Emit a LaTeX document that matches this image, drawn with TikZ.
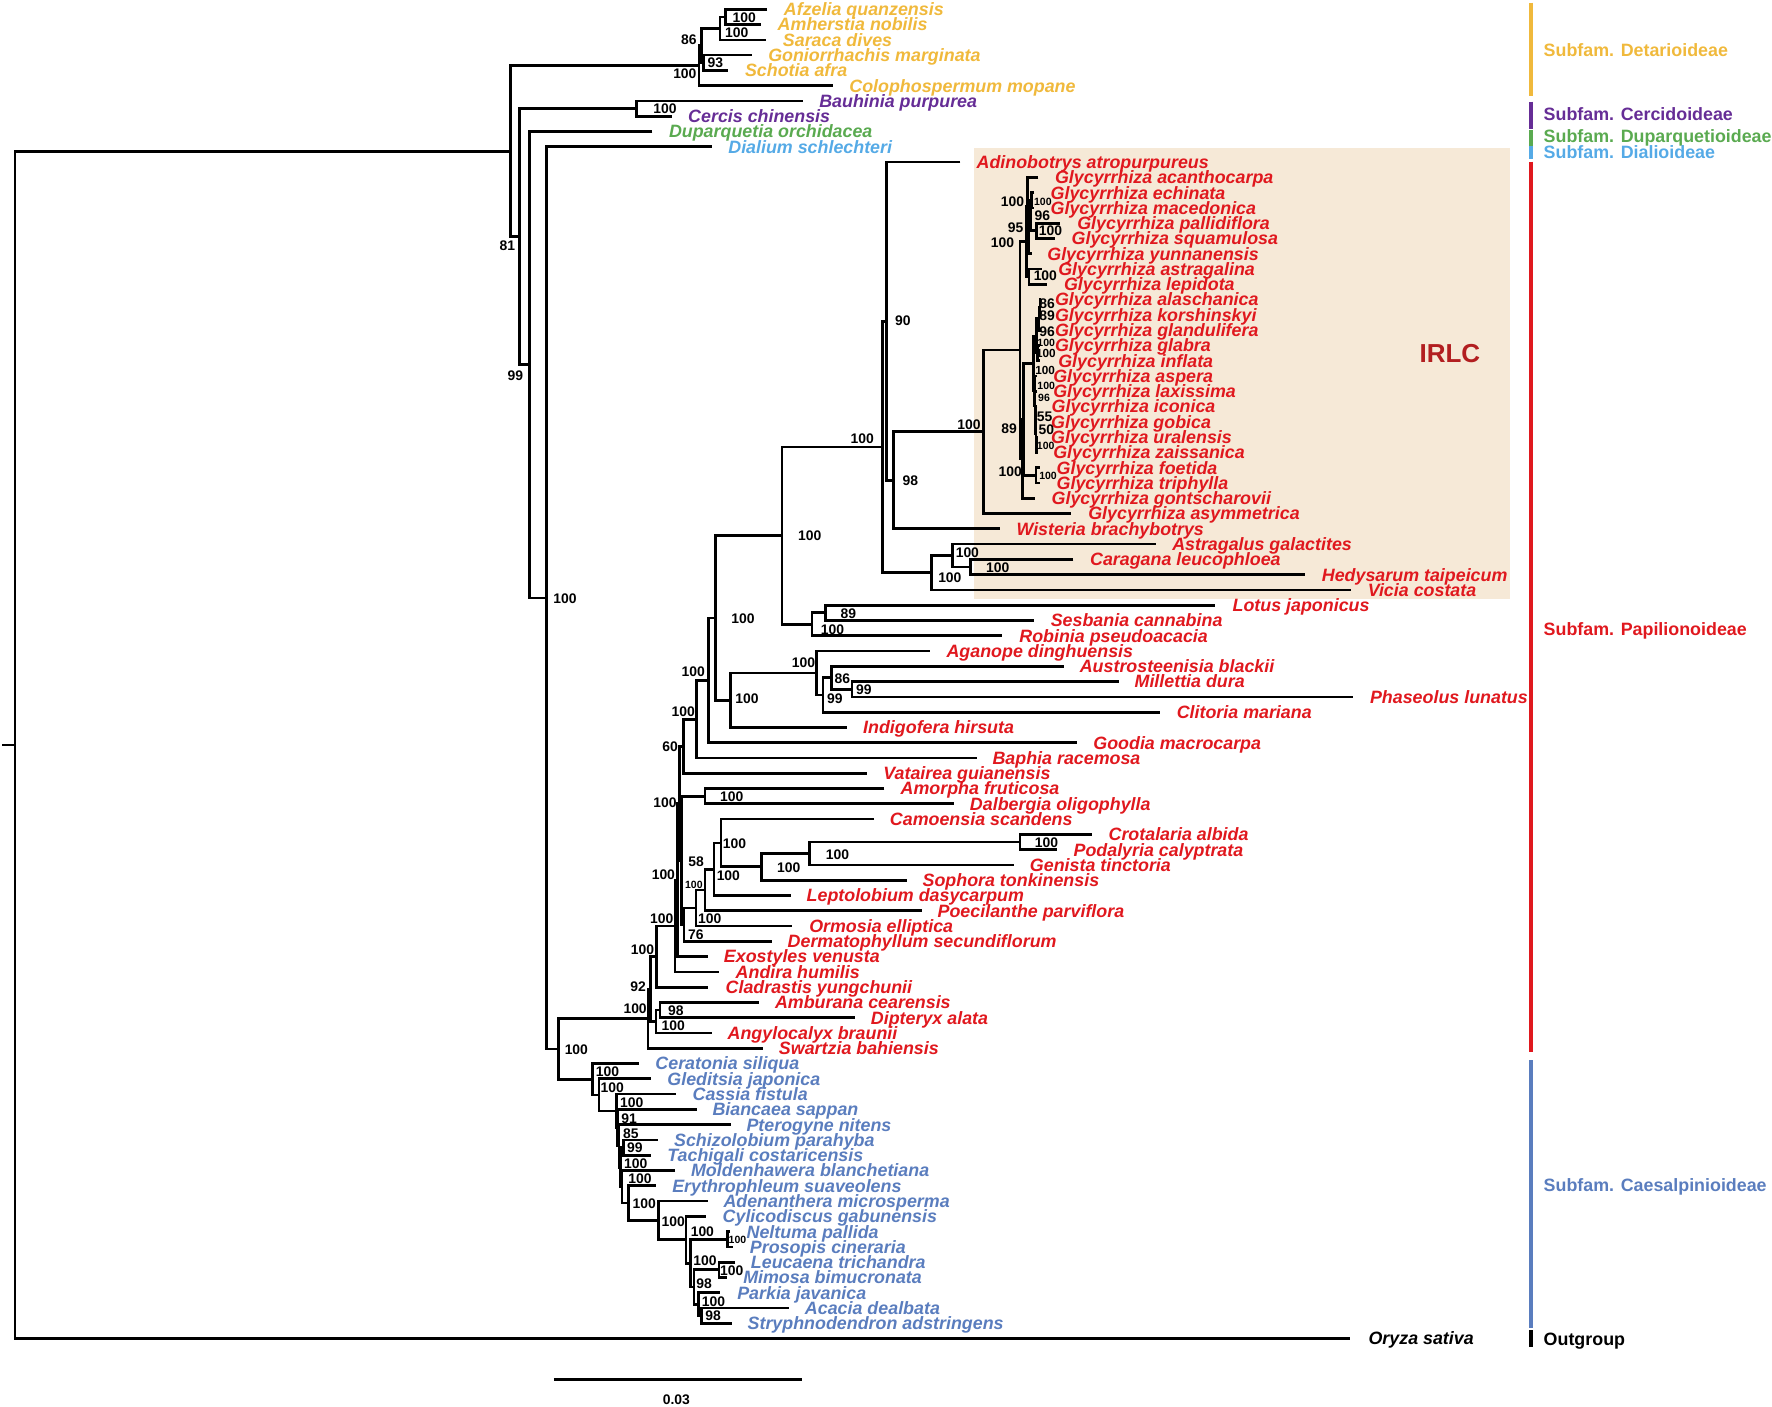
\documentclass[tikz,border=0pt]{standalone}
\usepackage{fontspec}
\setmainfont{Liberation Sans}
\usetikzlibrary{calc}
\definecolor{cDet}{RGB}{240,185,60}
\definecolor{cCer}{RGB}{102,45,150}
\definecolor{cDup}{RGB}{90,170,80}
\definecolor{cDia}{RGB}{85,170,230}
\definecolor{cPap}{RGB}{224,24,30}
\definecolor{cCae}{RGB}{90,125,190}
\definecolor{irlcbg}{RGB}{246,233,215}
\definecolor{irlctx}{RGB}{178,30,32}
\newcount\bscnt
\newcommand\tlf[6]{%
  \coordinate (#1) at (#3,{8.23+(#2-1)*13.52});
  \node[taxon,text=#5] (#1-t) at (#4,{8.23+(#2-1)*13.52}) {#6};}
\newcommand\tcl[4]{%
  \path let \p1=(#3), \p2=(#4) in coordinate (#1) at (#2pt,{0.5*(\y1+\y2)});
  \draw[br] (#3) -| (#1) |- (#4);}
\newcommand\bs[3]{\global\advance\bscnt by 1 \node[bsl] (bs\the\bscnt) at (#1,#2) {#3};}
\newcommand\bsm[3]{\global\advance\bscnt by 1 \node[bslm] (bs\the\bscnt) at (#1,#2) {#3};}
\newcommand\bss[3]{\global\advance\bscnt by 1 \node[bsls] (bs\the\bscnt) at (#1,#2) {#3};}
\tikzset{
  br/.style={line width=2.4pt, line join=miter},
  taxon/.style={anchor=west, inner sep=0pt, outer sep=0pt,
    font=\fontsize{15.8}{15.8}\selectfont\bfseries\itshape, text height=11.3pt, text depth=0pt},
  bsl/.style={inner sep=0pt, outer sep=0pt,
    font=\fontsize{12.3}{12.3}\selectfont\bfseries, text height=8.8pt, text depth=0pt},
  bslm/.style={inner sep=0pt, outer sep=0pt,
    font=\fontsize{10.4}{10.4}\selectfont\bfseries, text height=7.4pt, text depth=0pt},
  bsls/.style={inner sep=0pt, outer sep=0pt,
    font=\fontsize{9.3}{9.3}\selectfont\bfseries, text height=6.7pt, text depth=0pt},
  subf/.style={anchor=west, inner sep=0pt, outer sep=0pt,
    font=\fontsize{15.8}{15.8}\selectfont\bfseries, text height=11.3pt, text depth=0pt},
  bar/.style={line width=4.2pt},
}
\begin{document}
\begin{tikzpicture}[x=1pt,y=-1pt]
\useasboundingbox (0,0) rectangle (1568,1245);
% IRLC background
\node[fill=irlcbg, draw=none, inner sep=0pt, minimum width=474pt, minimum height=399pt, anchor=north west] (irlcbox) at (862,131) {};
\node[inner sep=0pt, text=irlctx, font=\fontsize{23}{23}\selectfont\bfseries] (irlc) at (1283,313) {IRLC};

% ---------- leaves ----------
\tlf{afz}{1}{678.9}{693.7}{cDet}{Afzelia quanzensis}
\tlf{amh}{2}{673.4}{688.2}{cDet}{Amherstia nobilis}
\tlf{sar}{3}{678}{692.8}{cDet}{Saraca dives}
\tlf{gon}{4}{665}{679.8}{cDet}{Goniorrhachis marginata}
\tlf{sch}{5}{644.5}{659.3}{cDet}{Schotia afra}
\tlf{col}{6}{736.8}{751.6}{cDet}{Colophospermum mopane}
\tlf{bau}{7}{710.3}{725}{cCer}{Bauhinia purpurea}
\tlf{cer}{8}{594.3}{609}{cCer}{Cercis chinensis}
\tlf{dup}{9}{577.3}{592}{cDup}{Duparquetia orchidacea}
\tlf{dia}{10}{629.7}{644.5}{cDia}{Dialium schlechteri}
\tlf{adi}{11}{849.9}{864.2}{cPap}{Adinobotrys atropurpureus}
\tlf{g1}{12}{918.8}{933.6}{cPap}{Glycyrrhiza acanthocarpa}
\tlf{g2}{13}{915}{929.7}{cPap}{Glycyrrhiza echinata}
\tlf{g3}{14}{915}{929.7}{cPap}{Glycyrrhiza macedonica}
\tlf{g4}{15}{938}{953.3}{cPap}{Glycyrrhiza pallidiflora}
\tlf{g5}{16}{933.6}{948.3}{cPap}{Glycyrrhiza squamulosa}
\tlf{g6}{17}{913}{926.8}{cPap}{Glycyrrhiza yunnanensis}
\tlf{g7}{18}{922}{936.5}{cPap}{Glycyrrhiza astragalina}
\tlf{g8}{19}{926.8}{941.5}{cPap}{Glycyrrhiza lepidota}
\tlf{g9}{20}{921}{933.6}{cPap}{Glycyrrhiza alaschanica}
\tlf{g10}{21}{921}{933.6}{cPap}{Glycyrrhiza korshinskyi}
\tlf{g11}{22}{921}{933.6}{cPap}{Glycyrrhiza glandulifera}
\tlf{g12}{23}{920}{933.6}{cPap}{Glycyrrhiza glabra}
\tlf{g13}{24}{920}{936.5}{cPap}{Glycyrrhiza inflata}
\tlf{g14}{25}{918}{932}{cPap}{Glycyrrhiza aspera}
\tlf{g15}{26}{918}{932}{cPap}{Glycyrrhiza laxissima}
\tlf{g16}{27}{918}{930.6}{cPap}{Glycyrrhiza iconica}
\tlf{g17}{28}{918}{930.2}{cPap}{Glycyrrhiza gobica}
\tlf{g18}{29}{918}{930.2}{cPap}{Glycyrrhiza uralensis}
\tlf{g19}{30}{918}{932}{cPap}{Glycyrrhiza zaissanica}
\tlf{g20}{31}{920.2}{935}{cPap}{Glycyrrhiza foetida}
\tlf{g21}{32}{920.2}{935}{cPap}{Glycyrrhiza triphylla}
\tlf{g22}{33}{915.8}{930.6}{cPap}{Glycyrrhiza gontscharovii}
\tlf{g23}{34}{948}{963}{cPap}{Glycyrrhiza asymmetrica}
\tlf{wis}{35}{884.6}{899.5}{cPap}{Wisteria brachybotrys}
\tlf{ast}{36}{1022.5}{1037.3}{cPap}{Astragalus galactites}
\tlf{car}{37}{949.8}{964.6}{cPap}{Caragana leucophloea}
\tlf{hed}{38}{1154.9}{1169.7}{cPap}{Hedysarum taipeicum}
\tlf{vic}{39}{1195.5}{1210.3}{cPap}{Vicia costata}
\tlf{lot}{40}{1074.8}{1090.7}{cPap}{Lotus japonicus}
\tlf{ses}{41}{914.8}{929.8}{cPap}{Sesbania cannabina}
\tlf{rob}{42}{886.9}{902}{cPap}{Robinia pseudoacacia}
\tlf{aga}{43}{822.6}{837.6}{cPap}{Aganope dinghuensis}
\tlf{aus}{44}{941.4}{955.5}{cPap}{Austrosteenisia blackii}
\tlf{mil}{45}{989.9}{1004}{cPap}{Millettia dura}
\tlf{pha}{46}{1197.5}{1212.3}{cPap}{Phaseolus lunatus}
\tlf{cli}{47}{1026.3}{1041.3}{cPap}{Clitoria mariana}
\tlf{ind}{48}{749.7}{763.8}{cPap}{Indigofera hirsuta}
\tlf{goo}{49}{953.4}{967.5}{cPap}{Goodia macrocarpa}
\tlf{bap}{50}{864.2}{878.3}{cPap}{Baphia racemosa}
\tlf{vat}{51}{766.9}{781.7}{cPap}{Vatairea guianensis}
\tlf{amo}{52}{782.5}{797}{cPap}{Amorpha fruticosa}
\tlf{dal}{53}{844.4}{858.3}{cPap}{Dalbergia oligophylla}
\tlf{cam}{54}{773.4}{787.5}{cPap}{Camoensia scandens}
\tlf{cro}{55}{966}{981}{cPap}{Crotalaria albida}
\tlf{pod}{56}{935}{950}{cPap}{Podalyria calyptrata}
\tlf{gen}{57}{897.2}{911.4}{cPap}{Genista tinctoria}
\tlf{sop}{58}{802.3}{816.4}{cPap}{Sophora tonkinensis}
\tlf{lep}{59}{699.6}{713.8}{cPap}{Leptolobium dasycarpum}
\tlf{poe}{60}{816.1}{829.7}{cPap}{Poecilanthe parviflora}
\tlf{orm}{61}{701}{716.1}{cPap}{Ormosia elliptica}
\tlf{der}{62}{682.8}{697}{cPap}{Dermatophyllum secundiflorum}
\tlf{exo}{63}{626.2}{640.6}{cPap}{Exostyles venusta}
\tlf{andi}{64}{636.5}{651}{cPap}{Andira humilis}
\tlf{cla}{65}{626.8}{642.1}{cPap}{Cladrastis yungchunii}
\tlf{amb}{66}{671.6}{685.8}{cPap}{Amburana cearensis}
\tlf{dip}{67}{756.5}{770.7}{cPap}{Dipteryx alata}
\tlf{ang}{68}{629.7}{643.9}{cPap}{Angylocalyx braunii}
\tlf{swa}{69}{675.4}{689.3}{cPap}{Swartzia bahiensis}
\tlf{cera}{70}{565.4}{580}{cCae}{Ceratonia siliqua}
\tlf{gle}{71}{576}{590.6}{cCae}{Gleditsia japonica}
\tlf{cas}{72}{598.1}{612.9}{cCae}{Cassia fistula}
\tlf{bia}{73}{616.4}{630.5}{cCae}{Biancaea sappan}
\tlf{pte}{74}{646.5}{660.6}{cCae}{Pterogyne nitens}
\tlf{schz}{75}{581.9}{596.5}{cCae}{Schizolobium parahyba}
\tlf{tac}{76}{576}{590.6}{cCae}{Tachigali costaricensis}
\tlf{mol}{77}{597.3}{611.5}{cCae}{Moldenhawera blanchetiana}
\tlf{ery}{78}{580.4}{594.9}{cCae}{Erythrophleum suaveolens}
\tlf{ade}{79}{626.2}{640.2}{cCae}{Adenanthera microsperma}
\tlf{cyl}{80}{624.7}{639.5}{cCae}{Cylicodiscus gabunensis}
\tlf{nel}{81}{646}{660.7}{cCae}{Neltuma pallida}
\tlf{pro}{82}{649}{663.6}{cCae}{Prosopis cineraria}
\tlf{leu}{83}{650.4}{664.5}{cCae}{Leucaena trichandra}
\tlf{mim}{84}{643}{657.7}{cCae}{Mimosa bimucronata}
\tlf{par}{85}{637.1}{652.4}{cCae}{Parkia javanica}
\tlf{aca}{86}{697.8}{712.3}{cCae}{Acacia dealbata}
\tlf{str}{87}{647.4}{661.6}{cCae}{Stryphnodendron adstringens}
\tlf{ory}{88}{1195}{1211}{black}{Oryza sativa}

% ---------- clades ----------
% Detarioideae
\tcl{D2a}{642}{afz}{amh}
\tcl{D2}{637}{D2a}{sar}
\tcl{D3}{622.5}{gon}{sch}
\tcl{D1}{620.5}{D2}{D3}
\tcl{D0}{618.5}{D1}{col}
% Cercidoideae
\tcl{C1}{563.4}{bau}{cer}
% Glycyrrhiza
\tcl{EM}{913}{g2}{g3}
\tcl{PS}{917.3}{g4}{g5}
\tcl{EMPS}{911.8}{EM}{PS}
\tcl{T1b}{910.5}{EMPS}{g6}
\tcl{T1}{909.5}{g1}{T1b}
\tcl{AL}{910.5}{g7}{g8}
\tcl{Top}{908.3}{T1}{AL}
\tcl{AK}{920.3}{g9}{g10}
\tcl{AKG}{919.5}{AK}{g11}
\tcl{GI}{918.3}{g12}{g13}
\tcl{U1}{917.2}{AKG}{GI}
\tcl{ZU}{917.3}{g18}{g19}
\tcl{GZ}{916.8}{g17}{ZU}
\tcl{IZ}{916.3}{g16}{GZ}
\tcl{LZ}{915.8}{g15}{IZ}
\tcl{U2}{915.3}{g14}{LZ}
\tcl{B2}{914.3}{U1}{U2}
\tcl{FT}{916.8}{g20}{g21}
\tcl{B1}{905.5}{B2}{FT}
\tcl{Bg}{904.5}{B1}{g22}
\tcl{G89}{902.6}{Top}{Bg}
\tcl{G100}{870}{G89}{g23}
\tcl{I98}{790.6}{G100}{wis}
\tcl{I90}{784.7}{adi}{I98}
\tcl{CH}{858.6}{car}{hed}
\tcl{ACH}{842.8}{ast}{CH}
\tcl{AC}{824.2}{ACH}{vic}
\tcl{I0}{781}{I90}{AC}
\tcl{LS}{730.4}{lot}{ses}
\tcl{LSR}{718.4}{LS}{rob}
\tcl{B100}{692}{I0}{LSR}
\tcl{MP}{754}{mil}{pha}
\tcl{M86}{735.5}{aus}{MP}
\tcl{M99}{728.2}{M86}{cli}
\tcl{MC}{722.6}{aga}{M99}
\tcl{IG}{646.7}{MC}{ind}
\tcl{N287}{633}{B100}{IG}
\tcl{N265}{626.8}{N287}{goo}
\tcl{N230}{616.4}{N265}{bap}
\tcl{N60}{604.6}{N230}{vat}
\tcl{AmD}{623.8}{amo}{dal}
\tcl{CP}{902.5}{cro}{pod}
\tcl{CPG}{716.1}{CP}{gen}
\tcl{CPGS}{674}{CPG}{sop}
\tcl{CC}{638}{cam}{CPGS}
\tcl{LCC}{631.8}{CC}{lep}
\tcl{P58}{623.8}{LCC}{poe}
\tcl{PO}{615.8}{P58}{orm}
\tcl{PD}{605.2}{PO}{der}
\tcl{R2}{603.2}{AmD}{PD}
\tcl{R}{601.3}{N60}{R2}
\tcl{Q}{599.8}{R}{exo}
\tcl{Y}{597.3}{Q}{andi}
\tcl{X}{581}{Y}{cla}
\tcl{AD}{584}{amb}{dip}
\tcl{AAD}{580.4}{AD}{ang}
\tcl{P1}{575.5}{X}{AAD}
\tcl{PR}{573.5}{P1}{swa}
% Caesalpinioideae
\tcl{AS}{620.9}{aca}{str}
\tcl{PAS}{617.9}{par}{AS}
\tcl{LM}{636.2}{leu}{mim}
\tcl{LMP}{614}{LM}{PAS}
\tcl{NP}{643.6}{nel}{pro}
\tcl{M3}{611.1}{NP}{LMP}
\tcl{M2}{607}{cyl}{M3}
\tcl{M1}{582.5}{ade}{M2}
\tcl{CE}{556}{ery}{M1}
\tcl{CA7}{550.5}{mol}{CE}
\tcl{ST}{551.5}{schz}{tac}
\tcl{CA6}{549}{ST}{CA7}
\tcl{CA5}{547.7}{pte}{CA6}
\tcl{CA4}{546.5}{bia}{CA5}
\tcl{CA3}{545.3}{cas}{CA4}
\tcl{CA2}{530}{gle}{CA3}
\tcl{CA1}{524.4}{cera}{CA2}
% backbone
\tcl{PC}{494}{PR}{CA1}
\tcl{N100}{483.6}{dia}{PC}
\tcl{N99}{468.4}{dup}{N100}
\tcl{N81}{460}{C1}{N99}
\tcl{ING}{452}{D0}{N81}
\tcl{ROOT}{13.3}{ING}{ory}
\coordinate (stubx) at (2,0);
\draw[br] (ROOT) -- (ROOT -| stubx);

% ---------- support values ----------
\bs{658.5}{15.3}{100}
\bs{652}{28.9}{100}
\bs{609.5}{35.4}{86}
\bs{633}{55.2}{93}
\bs{606}{65.5}{100}
\bs{588.5}{96}{100}
\bs{449}{217.2}{81}
\bs{456}{332.6}{99}
\bs{500}{529.3}{100}
\bs{716.5}{474.3}{100}
\bs{763}{387.9}{100}
\bs{799}{283.2}{90}
\bs{805.5}{425.3}{98}
\bs{857.4}{375.5}{100}
\bs{893}{379}{89}
\bs{856}{488.8}{100}
\bs{840.5}{510.9}{100}
\bs{882.9}{502}{100}
\bs{896}{178.4}{100}
\bss{922.8}{178.4}{100}
\bs{922.4}{191.1}{96}
\bs{898.6}{201.1}{95}
\bs{929.5}{204.4}{100}
\bs{887}{214.7}{100}
\bs{925}{244.2}{100}
\bs{926.5}{269}{86}
\bs{926.5}{279.3}{89}
\bs{926.5}{293.5}{96}
\bss{925.8}{303.2}{100}
\bsm{925.4}{312.6}{100}
\bsm{924.8}{327.4}{100}
\bss{925.8}{341.2}{100}
\bss{923.8}{351.9}{96}
\bs{924.3}{368.7}{55}
\bs{925.8}{380.5}{50}
\bss{925.3}{394.6}{100}
\bs{894}{417.3}{100}
\bss{927.4}{421.2}{100}
\bs{750.7}{542.7}{89}
\bs{736.7}{556.9}{100}
\bs{657.5}{547.5}{100}
\bs{711}{586.4}{100}
\bs{745.4}{600.2}{86}
\bs{764.5}{610.5}{99}
\bs{738.7}{618.5}{99}
\bs{661}{618.5}{100}
\bs{613.5}{594.3}{100}
\bs{604.5}{629.7}{100}
\bs{593}{660.7}{60}
\bs{647.5}{705}{100}
\bs{588.5}{710}{100}
\bs{650}{746.2}{100}
\bs{926}{745.7}{100}
\bs{741}{755.7}{100}
\bs{698}{767.5}{100}
\bs{616}{762.5}{58}
\bs{644.5}{775.1}{100}
\bss{614}{782.5}{100}
\bs{628}{813.2}{100}
\bs{615.7}{826.8}{76}
\bs{587}{773.7}{100}
\bs{585.5}{812.6}{100}
\bs{568.5}{840.3}{100}
\bs{564.7}{873.1}{92}
\bs{562}{892}{100}
\bs{598}{894.4}{98}
\bs{595.8}{907.6}{100}
\bs{510}{928.4}{100}
\bs{537.6}{948.3}{100}
\bs{541.8}{962.2}{100}
\bs{559}{975.5}{100}
\bs{556.7}{989.6}{91}
\bs{558.2}{1002.9}{85}
\bs{561.8}{1015.6}{99}
\bs{562.5}{1029.4}{100}
\bs{566.3}{1042.7}{100}
\bs{570}{1064.8}{100}
\bs{595.8}{1081}{100}
\bs{621.5}{1089.3}{100}
\bss{652.6}{1097.3}{100}
\bs{623.8}{1115}{100}
\bs{647.5}{1124.4}{100}
\bs{623}{1135.6}{98}
\bs{631.3}{1151.3}{100}
\bs{631}{1164.5}{98}

% ---------- subfamily bars ----------
\draw[bar,cDet] (1354.8,2.4) -- (1354.8,85);
\draw[bar,cCer] (1354.8,90) -- (1354.8,114);
\draw[bar,cDup] (1354.8,115) -- (1354.8,129.5);
\draw[bar,cDia] (1354.8,129.5) -- (1354.8,141);
\draw[bar,cPap] (1354.8,143) -- (1354.8,931);
\draw[bar,cCae] (1354.8,938) -- (1354.8,1175.5);
\draw[bar,black] (1354.8,1177) -- (1354.8,1191.5);
\node[subf,text=cDet] (sDet) at (1366,44) {Subfam. Detarioideae};
\node[subf,text=cCer] (sCer) at (1366,101) {Subfam. Cercidoideae};
\node[subf,text=cDup] (sDup) at (1366,120) {Subfam. Duparquetioideae};
\node[subf,text=cDia] (sDia) at (1366,135) {Subfam. Dialioideae};
\node[subf,text=cPap] (sPap) at (1366,557) {Subfam. Papilionoideae};
\node[subf,text=cCae] (sCae) at (1366,1049) {Subfam. Caesalpinioideae};
\node[subf,text=black] (sOut) at (1366,1185) {Outgroup};

% ---------- scale bar ----------
\coordinate (sb1) at (490,1220.5);
\coordinate (sb2) at (710,1220.5);
\draw[br] (sb1) -- (sb2);
\node[bsl] (sbl) at (598.5,1238.2) {0.03};
\end{tikzpicture}
\end{document}
